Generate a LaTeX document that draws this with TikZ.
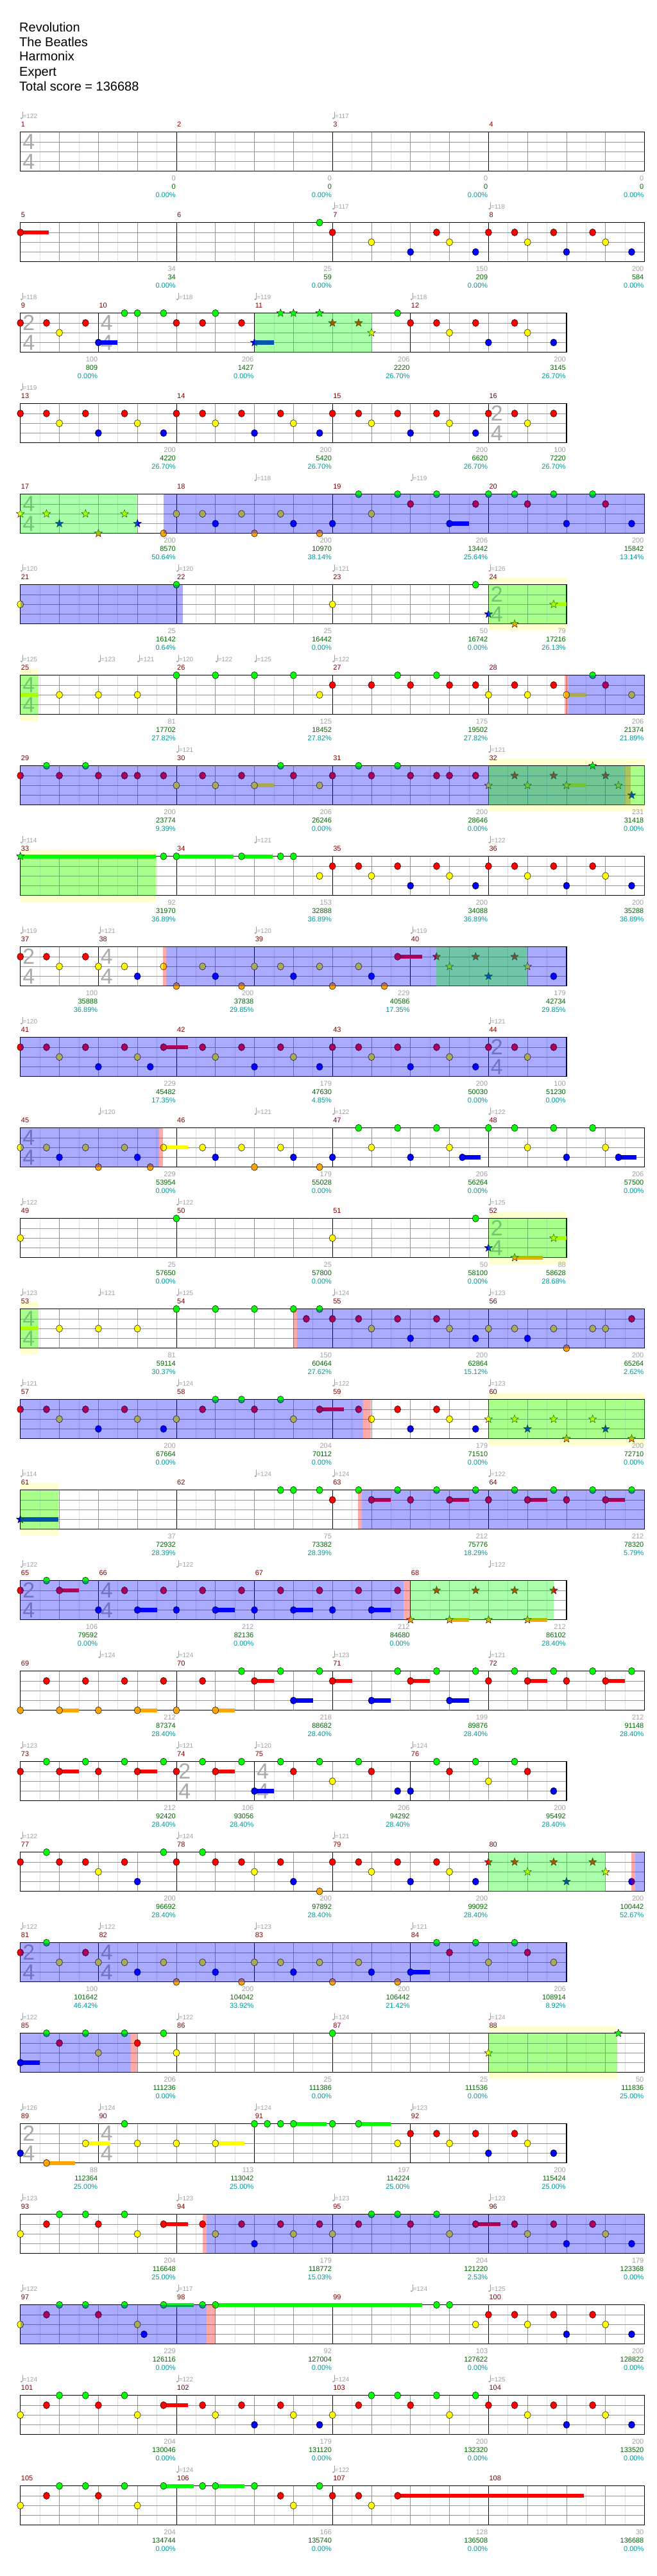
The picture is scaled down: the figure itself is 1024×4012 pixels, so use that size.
\documentclass[tikz,border=0pt]{standalone}
\usepackage{fontspec}
\setmainfont{Liberation Sans}
\usetikzlibrary{shapes.geometric}
\definecolor{lane0}{RGB}{0,255,0}
\definecolor{lane1}{RGB}{255,0,0}
\definecolor{lane2}{RGB}{255,255,0}
\definecolor{lane3}{RGB}{0,0,255}
\definecolor{lane4}{RGB}{255,165,0}
\definecolor{barred}{RGB}{128,0,0}
\definecolor{ptgray}{RGB}{160,160,160}
\definecolor{totgreen}{RGB}{0,100,0}
\definecolor{pctteal}{RGB}{0,150,150}
\definecolor{tsgray}{RGB}{170,170,170}
\definecolor{bandyellow}{RGB}{255,255,208}

% staff of #1 beats, bar lines at #2
\newcommand{\staff}[2]{%
  \foreach \k in {0.5,1.5,...,#1} \draw[eighthline] (\k,0) -- (\k,4);
  \foreach \k in {1,...,#1} \draw[beatline] (\k,0) -- (\k,4);
  \foreach \l in {1,2,3} \draw[laneline] (0,\l) -- (#1,\l);
  \foreach \k in {#2} \draw[barline] (\k,0) -- (\k,4);
  \draw[border] (0,0) rectangle (#1,4);}
\newcommand{\tsig}[3]{%
  \node[tsig] (ts\rid-#1a) at ([xshift=13pt]#1,1) {#2};
  \node[tsig] (ts\rid-#1b) at ([xshift=13pt]#1,3) {#3};}
\newcommand{\mnums}[1]{\foreach \b/\n in {#1}
  \node[mnum] (m\n) at ([xshift=1pt,yshift=8pt]\b,0) {\n};}
\newcommand{\tempos}[1]{\foreach \b/\v [count=\i] in {#1} {
  \fill[ptgray] ([xshift=1.5pt,yshift=21.5pt]\b,0) ellipse (1.7pt and 1.3pt);
  \draw[ptgray,line width=0.5pt] ([xshift=3pt,yshift=21.5pt]\b,0) -- ++(0,10pt);
  \node[tempo] (t\rid-\i) at ([xshift=3.6pt,yshift=25pt]\b,0) {=\v};}}
\newcommand{\sus}[1]{\foreach \b/\l/\e in {#1}
  \fill[fill=lane\l] (\b,\l-0.2) rectangle (\e,\l+0.2);}
\newcommand{\gems}[1]{\foreach \b/\l [count=\i] in {#1}
  \node[gem=\l] (g\rid-\i) at (\b,\l) {};}
\newcommand{\stars}[1]{\foreach \b/\l [count=\i] in {#1}
  \node[sgem=\l] (s\rid-\i) at (\b,\l) {};}
\newcommand{\riff}[1]{\foreach \d/\l [count=\i] in {0/1,0.67/1,1/2,1.67/1,2/3,2.67/1,3/2,3.67/3}
  \node[gem=\l] (f\rid-#1-\i) at ({#1+\d},\l) {};}
\newcommand{\scores}[1]{\foreach \b/\n/\p/\t/\q in {#1} {
  \node[ptnum] (p\n) at ([xshift=-1pt,yshift=-14.5pt]\b,4) {\p};
  \node[totnum] (c\n) at ([xshift=-1pt,yshift=-27.5pt]\b,4) {\t};
  \node[pctnum] (q\n) at ([xshift=-1pt,yshift=-40.5pt]\b,4) {\q\%};}}
\newcommand{\bandzone}[2]{\fill[bandyellow] (#1,-0.7) rectangle (#2,4.66);}
\newcommand{\odzone}[2]{\fill[odzone] (#1,0) rectangle (#2,4);}
\newcommand{\phrasezone}[2]{\fill[phrasezone] (#1,0) rectangle (#2,4);}
\newcommand{\pinkzone}[2]{\fill[pinkzone] (#1,0) rectangle (#2,4);}

\begin{document}
\begin{tikzpicture}[
  x=1pt,y=-1pt,
  eighthline/.style={draw=black!13,line width=0.6pt},
  beatline/.style={draw=black!42,line width=0.8pt},
  laneline/.style={draw=black!42,line width=0.9pt},
  barline/.style={draw=black,line width=0.8pt},
  border/.style={draw=black,line width=1.3pt},
  gem/.style={ellipse,draw=black,line width=0.5pt,fill=lane#1,
              minimum width=10pt,minimum height=11pt,inner sep=0pt},
  sgem/.style={star,star points=5,star point ratio=2.4,draw=black,line width=0.4pt,
               fill=lane#1,minimum size=13pt,inner sep=0pt},
  tsig/.style={font=\fontsize{34}{34}\selectfont,text=tsgray,inner sep=0pt},
  mnum/.style={font=\fontsize{11}{11}\selectfont,text=barred,anchor=base west,inner sep=0pt},
  tempo/.style={font=\fontsize{10}{10}\selectfont,text=ptgray,anchor=west,inner sep=0pt},
  ptnum/.style={font=\fontsize{11}{11}\selectfont,text=ptgray,anchor=base east,inner sep=0pt},
  totnum/.style={font=\fontsize{11}{11}\selectfont,text=totgreen,anchor=base east,inner sep=0pt},
  pctnum/.style={font=\fontsize{11}{11}\selectfont,text=pctteal,anchor=base east,inner sep=0pt},
  title/.style={font=\fontsize{20}{24}\selectfont,anchor=base west,inner sep=0pt},
  odzone/.style={fill=blue,fill opacity=0.333},
  phrasezone/.style={fill=green,fill opacity=0.333},
  pinkzone/.style={fill=red,fill opacity=0.333}
]
\fill[white] (0,0) rectangle (1024,4012);
\useasboundingbox (0,0) rectangle (1024,4012);
% Header
\node[title] (song) at (30,49) {Revolution};
\node[title] (band) at (30,72) {The Beatles};
\node[title] (author) at (30,95) {Harmonix};
\node[title] (level) at (30,118) {Expert};
\node[title] (total) at (30,141) {Total score = 136688};

% measures 1-4
\begin{scope}[shift={(31.75,205.7)},x=60.8pt,y=-15.25pt]
\def\rid{1}
\staff{16}{4,8,12}
\tsig{0}{4}{4}
\mnums{0/1,4/2,8/3,12/4}
\tempos{0/122,8/117}
\scores{4/1/0/0/0.00,8/2/0/0/0.00,12/3/0/0/0.00,16/4/0/0/0.00}
\end{scope}

% measures 5-8
\begin{scope}[shift={(31.75,346.7)},x=60.8pt,y=-15.25pt]
\def\rid{2}
\staff{16}{4,8,12}
\mnums{0/5,4/6,8/7,12/8}
\tempos{8/117,12/118}
\sus{0/1/0.73}
\gems{0/1,7.67/0,8/1,9/2,10/3,10.67/1,11/2,11.67/3}
\riff{12}
\scores{4/5/34/34/0.00,8/6/25/59/0.00,12/7/150/209/0.00,16/8/200/584/0.00}
\end{scope}

% measures 9-12
\begin{scope}[shift={(31.75,487.7)},x=60.8pt,y=-15.25pt]
\def\rid{3}
\staff{14}{2,6,10}
\tsig{0}{2}{4}\tsig{2}{4}{4}
\mnums{0/9,2/10,6/11,10/12}
\tempos{0/118,4/118,6/119,10/118}
\sus{2/3/2.48,6/3/6.5}
\gems{0/1,0.67/1,1/2,1.67/1,2/3,2.67/0,3/0,3.67/0,4/1,4.67/1,5/0,5.67/1,9.67/0,10/1,10.67/1,11/2,11.67/1,12/3,12.67/1,13/2,13.67/3}
\stars{6/3,6.67/0,7/0,7.67/0,8/1,8.67/1,9/2}
\phrasezone{6}{9}
\scores{2/9/100/809/0.00,6/10/206/1427/0.00,10/11/206/2220/26.70,14/12/200/3145/26.70}
\end{scope}

% measures 13-16
\begin{scope}[shift={(31.75,628.7)},x=60.8pt,y=-15.25pt]
\def\rid{4}
\staff{14}{4,8,12}
\tsig{12}{2}{4}
\mnums{0/13,4/14,8/15,12/16}
\tempos{0/119}
\riff{0}\riff{4}\riff{8}
\gems{12/1,12.67/1,13/2,13.67/1}
\scores{4/13/200/4220/26.70,8/14/200/5420/26.70,12/15/200/6620/26.70,14/16/100/7220/26.70}
\end{scope}

% measures 17-20
\begin{scope}[shift={(31.75,769.7)},x=60.8pt,y=-15.25pt]
\def\rid{5}
\staff{16}{4,8,12}
\tsig{0}{4}{4}
\mnums{0/17,4/18,8/19,12/20}
\tempos{6/118,10/119}
\sus{11/3/11.5}
\stars{0/2,0.67/2,1/3,1.67/2,2/4,2.67/2,3/3}
\gems{3.67/4,4/2,4.67/2,5/3,5.67/2,6/4,6.67/2,7/3,7.67/4,8/3,8.67/0,9/2,9.67/0,10/1,10.67/0,11/3,11.67/1,12/0,12.67/0,13/1,13.67/0,14/3,14.67/0,15/1,15.67/3}
\phrasezone{0}{3}
\odzone{3.67}{16}
\scores{4/17/200/8570/50.64,8/18/200/10970/38.14,12/19/206/13442/25.64,16/20/200/15842/13.14}
\end{scope}

% measures 21-24
\begin{scope}[shift={(31.75,910.7)},x=60.8pt,y=-15.25pt]
\def\rid{6}
\bandzone{12}{14}
\staff{14}{4,8,12}
\tsig{12}{2}{4}
\mnums{0/21,4/22,8/23,12/24}
\tempos{0/120,4/120,8/121,12/126}
\sus{13.67/2/14}
\gems{0/2,4/0,8/2,11.67/0}
\stars{12/3,12.67/4,13.67/2}
\odzone{0}{4.17}
\phrasezone{12}{14}
\scores{4/21/25/16142/0.64,8/22/25/16442/0.00,12/23/50/16742/0.00,14/24/79/17216/26.13}
\end{scope}

% measures 25-28
\begin{scope}[shift={(31.75,1051.7)},x=60.8pt,y=-15.25pt]
\def\rid{7}
\bandzone{0}{0.47}
\staff{16}{4,8,12}
\tsig{0}{4}{4}
\mnums{0/25,4/26,8/27,12/28}
\tempos{0/125,2/123,3/121,4/120,5/122,6/125,8/122}
\sus{0/2/0.47,14/2/14.5}
\gems{1/2,2/2,3/2,4/0,5/0,6/0,7/0,7.67/2,8/1,9/1,9.67/0,10/1,10.67/0,11/1,11.67/1,12/2,12.67/1,13/2,13.67/1,14/2,14.67/0,15/1,15.67/2}
\phrasezone{0}{0.47}
\pinkzone{13.95}{14.05}
\odzone{14.05}{16}
\scores{4/25/81/17702/27.82,8/26/125/18452/27.82,12/27/175/19502/27.82,16/28/206/21374/21.89}
\end{scope}

% measures 29-32
\begin{scope}[shift={(31.75,1192.7)},x=60.8pt,y=-15.25pt]
\def\rid{8}
\bandzone{12}{16}
\staff{16}{4,8,12}
\mnums{0/29,4/30,8/31,12/32}
\tempos{4/121,12/121}
\sus{6/2/6.5,14/2/14.5}
\gems{0/1,0.67/0,1/1,1.67/0,2/1,2.67/1,3/1,3.67/1,4/2,4.67/1,5/2,5.67/1,6/2,6.67/0,7/1,7.67/2,8/1,8.67/0,9/1,9.67/0,10/1,10.67/1,11/1,11.67/1}
\stars{12/2,12.67/1,13/2,13.67/1,14/2,14.67/0,15/1,15.33/2,15.67/3}
\odzone{0}{15.5}
\pinkzone{15.5}{15.65}
\phrasezone{12}{16}
\scores{4/29/200/23774/9.39,8/30/206/26246/0.00,12/31/200/28646/0.00,16/32/231/31418/0.00}
\end{scope}

% measures 33-36
\begin{scope}[shift={(31.75,1333.7)},x=60.8pt,y=-15.25pt]
\def\rid{9}
\bandzone{0}{3.47}
\staff{16}{4,8,12}
\mnums{0/33,4/34,8/35,12/36}
\tempos{0/114,6/121,12/122}
\sus{0/0/3.47,4/0/5.47,5.67/0/6.47}
\stars{0/0}
\gems{3.67/0,4/0,5.67/0,6.67/0,7/0,7.67/2,8/1,8.67/1,9/2,9.67/1,10/3,10.67/1,11/2,11.67/3}
\riff{12}
\phrasezone{0}{3.47}
\scores{4/33/92/31970/36.89,8/34/153/32888/36.89,12/35/200/34088/36.89,16/36/200/35288/36.89}
\end{scope}

% measures 37-40
\begin{scope}[shift={(31.75,1474.7)},x=60.8pt,y=-15.25pt]
\def\rid{10}
\staff{14}{2,6,10}
\tsig{0}{2}{4}\tsig{2}{4}{4}
\mnums{0/37,2/38,6/39,10/40}
\tempos{0/119,2/121,6/120,10/119}
\sus{9.67/1/10.3}
\gems{0/1,0.67/1,1/2,1.67/1,2/2,2.67/2,3/3,3.67/2,4/4,4.67/2,5/3,5.67/4,6/2,6.67/2,7/3,7.67/2,8/4,8.67/2,9/3,9.33/4,9.67/1,13.67/3}
\stars{10.67/1,11/2,11.67/1,12/3,12.67/1,13/2}
\pinkzone{3.65}{3.73}
\odzone{3.73}{14}
\phrasezone{10.67}{13}
\scores{2/37/100/35888/36.89,6/38/200/37838/29.85,10/39/229/40586/17.35,14/40/179/42734/29.85}
\end{scope}

% measures 41-44
\begin{scope}[shift={(31.75,1615.7)},x=60.8pt,y=-15.25pt]
\def\rid{11}
\staff{14}{4,8,12}
\tsig{12}{2}{4}
\mnums{0/41,4/42,8/43,12/44}
\tempos{0/120,12/121}
\sus{3.67/1/4.3}
\gems{0/1,0.67/1,1/2,1.67/1,2/3,2.67/1,3/2,3.33/3,3.67/1,4.67/1,5/2,5.67/1,6/3,6.67/1,7/2,7.67/3,12/1,12.67/1,13/2,13.67/1}
\riff{8}
\odzone{0}{14}
\scores{4/41/229/45482/17.35,8/42/179/47630/4.85,12/43/200/50030/0.00,14/44/100/51230/0.00}
\end{scope}

% measures 45-48
\begin{scope}[shift={(31.75,1756.7)},x=60.8pt,y=-15.25pt]
\def\rid{12}
\staff{16}{4,8,12}
\tsig{0}{4}{4}
\mnums{0/45,4/46,8/47,12/48}
\tempos{2/120,6/121,8/122,12/122}
\sus{3.67/2/4.3,11.33/3/11.8,15.33/3/15.8}
\gems{0/2,0.67/2,1/3,1.67/2,2/4,2.67/2,3/3,3.33/4,3.67/2,4.67/2,5/3,5.67/2,6/4,6.67/2,7/3,7.67/4,8/3,8.67/0,9/2,9.67/0,10/3,10.67/0,11/2,11.33/3,12/0,12.67/0,13/2,13.67/0,14/3,14.67/0,15/2,15.33/3}
\odzone{0}{3.55}
\pinkzone{3.55}{3.65}
\scores{4/45/229/53954/0.00,8/46/179/55028/0.00,12/47/206/56264/0.00,16/48/206/57500/0.00}
\end{scope}

% measures 49-52
\begin{scope}[shift={(31.75,1897.7)},x=60.8pt,y=-15.25pt]
\def\rid{13}
\bandzone{12}{14}
\staff{14}{4,8,12}
\tsig{12}{2}{4}
\mnums{0/49,4/50,8/51,12/52}
\tempos{0/122,4/122,12/125}
\sus{12.67/4/13.4,13.67/2/14}
\gems{0/2,4/0,8/2,11.67/0}
\stars{12/3,12.67/4,13.67/2}
\phrasezone{12}{14}
\scores{4/49/25/57650/0.00,8/50/25/57800/0.00,12/51/50/58100/0.00,14/52/88/58628/28.68}
\end{scope}

% measures 53-56
\begin{scope}[shift={(31.75,2038.7)},x=60.8pt,y=-15.25pt]
\def\rid{14}
\bandzone{0}{0.47}
\staff{16}{4,8,12}
\tsig{0}{4}{4}
\mnums{0/53,4/54,8/55,12/56}
\tempos{0/123,2/121,4/125,8/124,12/123}
\sus{0/2/0.47}
\gems{1/2,2/2,3/2,4/0,5/0,6/0,7/0,7.33/1,7.67/0,8/1,8.67/1,9/2,9.67/1,10/3,10.67/1,11/2,11.67/3,12/2,12.67/2,13/3,13.67/2,14/4,14.67/2,15/2,15.67/1}
\phrasezone{0}{0.47}
\pinkzone{7}{7.1}
\odzone{7.1}{16}
\scores{4/53/81/59114/30.37,8/54/150/60464/27.62,12/55/200/62864/15.12,16/56/200/65264/2.62}
\end{scope}

% measures 57-60
\begin{scope}[shift={(31.75,2179.7)},x=60.8pt,y=-15.25pt]
\def\rid{15}
\bandzone{12}{16}
\staff{16}{4,8,12}
\mnums{0/57,4/58,8/59,12/60}
\tempos{0/121,4/124,8/122,12/123}
\sus{7.67/1/8.3}
\riff{0}
\gems{4/2,4.67/1,5/0,5.67/0,6/1,6.67/0,7/2,7.67/1,8.67/1,9/2,9.67/1,10/3,10.67/1,11/2,11.67/3}
\stars{12/2,12.67/2,13/3,13.67/2,14/4,14.67/2,15/3,15.67/4}
\odzone{0}{8.79}
\pinkzone{8.79}{8.98}
\phrasezone{12}{16}
\scores{4/57/200/67664/0.00,8/58/204/70112/0.00,12/59/179/71510/0.00,16/60/200/72710/0.00}
\end{scope}

% measures 61-64
\begin{scope}[shift={(31.75,2320.7)},x=60.8pt,y=-15.25pt]
\def\rid{16}
\bandzone{0}{0.98}
\staff{16}{4,8,12}
\mnums{0/61,4/62,8/63,12/64}
\tempos{0/114,6/124,8/124,12/122}
\sus{0/3/0.98,9/1/9.5,11/1/11.5,13/1/13.5,15/1/15.5}
\stars{0/3}
\gems{6.67/0,7/0,7.67/0,8/1,8.67/0,9/1,9.67/0,10/1,10.67/0,11/1,11.67/0,12/1,12.67/0,13/1,13.67/0,14/1,14.67/0,15/1,15.67/0}
\phrasezone{0}{0.98}
\pinkzone{8.65}{8.76}
\odzone{8.76}{16}
\scores{4/61/37/72932/28.39,8/62/75/73382/28.39,12/63/212/75776/18.29,16/64/212/78320/5.79}
\end{scope}

% measures 65-68
\begin{scope}[shift={(31.75,2461.7)},x=60.8pt,y=-15.25pt]
\def\rid{17}
\staff{14}{2,6,10}
\tsig{0}{2}{4}\tsig{2}{4}{4}
\mnums{0/65,2/66,6/67,10/68}
\tempos{0/122,4/122,12/122}
\sus{1/1/1.5,3/3/3.5,5/3/5.5,7/3/7.5,9/3/9.5,11/4/11.5,13/4/13.5}
\gems{0/1,0.67/0,1/1,1.67/0,2/3,2.67/1,3/3,3.67/1,4/3,4.67/1,5/3,5.67/1,6/3,6.67/1,7/3,7.67/1,8/3,8.67/1,9/3,9.67/1}
\stars{10/4,10.67/1,11/4,11.67/1,12/4,12.67/1,13/4,13.67/1}
\odzone{0}{9.82}
\pinkzone{9.82}{10}
\phrasezone{10}{13.67}
\scores{2/65/106/79592/0.00,6/66/212/82136/0.00,10/67/212/84680/0.00,14/68/212/86102/28.40}
\end{scope}

% measures 69-72
\begin{scope}[shift={(31.75,2602.7)},x=60.8pt,y=-15.25pt]
\def\rid{18}
\staff{16}{4,8,12}
\mnums{0/69,4/70,8/71,12/72}
\tempos{2/124,4/124,8/123,12/121}
\sus{1/4/1.5,3/4/3.5,5/4/5.5,6/1/6.5,7/3/7.5,8/1/8.5,9/3/9.5,10/1/10.5,11/3/11.5,13/1/13.5,15/1/15.5}
\gems{0/4,0.67/1,1/4,1.67/1,2/4,2.67/1,3/4,3.67/1,4/4,4.67/1,5/4,5.67/0,6/1,6.67/0,7/3,7.67/0,8/1,9/3,9.67/0,10/1,10.67/0,11/3,11.67/0,12/1,12.67/0,13/1,13.67/0,14/1,14.67/0,15/1,15.67/0}
\scores{4/69/212/87374/28.40,8/70/218/88682/28.40,12/71/199/89876/28.40,16/72/212/91148/28.40}
\end{scope}

% measures 73-76
\begin{scope}[shift={(31.75,2743.7)},x=60.8pt,y=-15.25pt]
\def\rid{19}
\staff{14}{4,6,10}
\tsig{4}{2}{4}\tsig{6}{4}{4}
\mnums{0/73,4/74,6/75,10/76}
\tempos{0/123,4/121,6/120,10/124}
\sus{1/1/1.5,3/1/3.5,5/1/5.5,6/3/6.5}
\gems{0/1,0.67/0,1/1,1.67/0,2/1,2.67/0,3/1,3.67/0,4/1,4.67/0,5/1,5.67/0,6/3,6.67/0,7/1,7.67/0,8/2,8.67/0,9/1,9.67/3,10/3,10.67/0,11/1,11.67/0,12/2,12.67/0,13/1,13.67/3}
\scores{4/73/212/92420/28.40,6/74/106/93056/28.40,10/75/206/94292/28.40,14/76/200/95492/28.40}
\end{scope}

% measures 77-80
\begin{scope}[shift={(31.75,2884.7)},x=60.8pt,y=-15.25pt]
\def\rid{20}
\staff{16}{4,8,12}
\mnums{0/77,4/78,8/79,12/80}
\tempos{0/122,4/124,8/121}
\gems{0/1,0.67/0,1/1,1.67/1,2/2,2.67/1,3/3,3.67/0,4/1,4.67/0,5/1,5.67/1,6/2,6.67/1,7/3,7.67/4,8/1,8.67/1,9/2,9.67/1,10/3,10.67/1,11/2,11.67/3,15.67/3}
\stars{12/1,12.67/1,13/2,13.67/1,14/3,14.67/1,15/2}
\phrasezone{12}{15}
\pinkzone{15.67}{15.76}
\odzone{15.76}{16}
\scores{4/77/200/96692/28.40,8/78/200/97892/28.40,12/79/200/99092/28.40,16/80/200/100442/52.67}
\end{scope}

% measures 81-84
\begin{scope}[shift={(31.75,3025.7)},x=60.8pt,y=-15.25pt]
\def\rid{21}
\staff{14}{2,6,10}
\tsig{0}{2}{4}\tsig{2}{4}{4}
\mnums{0/81,2/82,6/83,10/84}
\tempos{0/122,2/122,6/123,10/121}
\sus{10/3/10.5}
\gems{0/1,0.67/0,1/2,1.67/1,2/2,2.67/2,3/3,3.67/2,4/4,4.67/2,5/3,5.67/4,6/2,6.67/2,7/3,7.67/2,8/4,8.67/2,9/3,9.67/4,10/3,10.67/0,11/1,11.67/0,12/2,12.67/0,13/1,13.67/2}
\odzone{0}{14}
\scores{2/81/100/101642/46.42,6/82/200/104042/33.92,10/83/200/106442/21.42,14/84/206/108914/8.92}
\end{scope}

% measures 85-88
\begin{scope}[shift={(31.75,3166.7)},x=60.8pt,y=-15.25pt]
\def\rid{22}
\bandzone{12}{15.3}
\staff{16}{4,8,12}
\mnums{0/85,4/86,8/87,12/88}
\tempos{0/122,4/122,8/124,12/124}
\sus{0/3/0.5}
\gems{0/3,0.67/0,1/1,1.67/0,2/2,2.67/0,3/1,3.67/0,4/2,8/0}
\stars{12/2,15.33/0}
\odzone{0}{2.83}
\pinkzone{2.83}{3}
\phrasezone{12}{15.3}
\scores{4/85/206/111236/0.00,8/86/25/111386/0.00,12/87/25/111536/0.00,16/88/50/111836/25.00}
\end{scope}

% measures 89-92
\begin{scope}[shift={(31.75,3307.7)},x=60.8pt,y=-15.25pt]
\def\rid{23}
\staff{14}{2,6,10}
\tsig{0}{2}{4}\tsig{2}{4}{4}
\mnums{0/89,2/90,6/91,10/92}
\tempos{0/126,2/124,6/124,10/123}
\sus{0.67/4/1.4,1.67/2/2.3,5/2/5.75,7/0/7.85,8.67/0/9.5}
\gems{0/3,0.67/4,1.67/2,2.67/0,3/2,4/2,5/2,6/0,6.33/0,6.67/0,7/0,8/0,8.67/0,9.67/2,10/1,10.67/1,11/2,11.67/1,12/3,12.67/1,13/2,13.67/3}
\scores{2/89/88/112364/25.00,6/90/113/113042/25.00,10/91/197/114224/25.00,14/92/200/115424/25.00}
\end{scope}

% measures 93-96
\begin{scope}[shift={(31.75,3448.7)},x=60.8pt,y=-15.25pt]
\def\rid{24}
\staff{16}{4,8,12}
\mnums{0/93,4/94,8/95,12/96}
\tempos{0/123,4/123,8/123,12/123}
\sus{3.67/1/4.3,11.67/1/12.3}
\gems{0/2,0.67/1,1/0,1.67/0,2/1,2.67/0,3/2,3.67/1,4.67/1,5/2,5.67/1,6/3,6.67/1,7/2,7.67/1,8/2,8.67/1,9/0,9.67/0,10/1,10.67/0,11/2,11.67/1,12.67/1,13/2,13.67/1,14/3,14.67/1,15/2,15.67/3}
\pinkzone{4.67}{4.78}
\odzone{4.78}{16}
\scores{4/93/204/116648/25.00,8/94/179/118772/15.03,12/95/204/121220/2.53,16/96/179/123368/0.00}
\end{scope}

% measures 97-100
\begin{scope}[shift={(31.75,3589.7)},x=60.8pt,y=-15.25pt]
\def\rid{25}
\staff{16}{4,8,12}
\mnums{0/97,4/98,8/99,12/100}
\tempos{0/122,4/117,10/124,12/125}
\sus{3.67/0/4.45,5/0/10.3}
\gems{0/2,0.67/1,1/0,1.67/0,2/1,2.67/0,3/2,3.17/3,3.67/0,4.67/0,5/0,10.67/0,11/0,11.67/2,12/1,12.67/1,13/2,13.67/1,14/3,14.67/1,15/2,15.67/3}
\odzone{0}{4.78}
\pinkzone{4.78}{5}
\scores{4/97/229/126116/0.00,8/98/92/127004/0.00,12/99/103/127622/0.00,16/100/200/128822/0.00}
\end{scope}

% measures 101-104
\begin{scope}[shift={(31.75,3730.7)},x=60.8pt,y=-15.25pt]
\def\rid{26}
\staff{16}{4,8,12}
\mnums{0/101,4/102,8/103,12/104}
\tempos{0/124,4/122,8/124,12/125}
\sus{3.67/1/4.3}
\gems{0/2,0.67/1,1/0,1.67/0,2/1,2.67/0,3/2,3.67/1,4.67/1,5/2,5.67/1,6/3,6.67/1,7/2,7.67/3,8/2,8.67/1,9/0,9.67/0,10/1,10.67/0,11/2,11.67/0}
\riff{12}
\scores{4/101/204/130046/0.00,8/102/179/131120/0.00,12/103/200/132320/0.00,16/104/200/133520/0.00}
\end{scope}

% measures 105-108
\begin{scope}[shift={(31.75,3871.7)},x=60.8pt,y=-15.25pt]
\def\rid{27}
\staff{16}{4,8,12}
\mnums{0/105,4/106,8/107,12/108}
\tempos{4/124,8/122}
\sus{3.67/0/4.45,5/0/5.75,9.67/1/14.45}
\gems{0/2,0.67/1,1/0,1.67/0,2/1,2.67/0,3/2,3.67/0,4.67/0,5/0,6/0,6.67/1,7/2,7.67/0,8/1,8.67/1,9/2,9.67/1}
\scores{4/105/204/134744/0.00,8/106/166/135740/0.00,12/107/128/136508/0.00,16/108/30/136688/0.00}
\end{scope}
\end{tikzpicture}
\end{document}
